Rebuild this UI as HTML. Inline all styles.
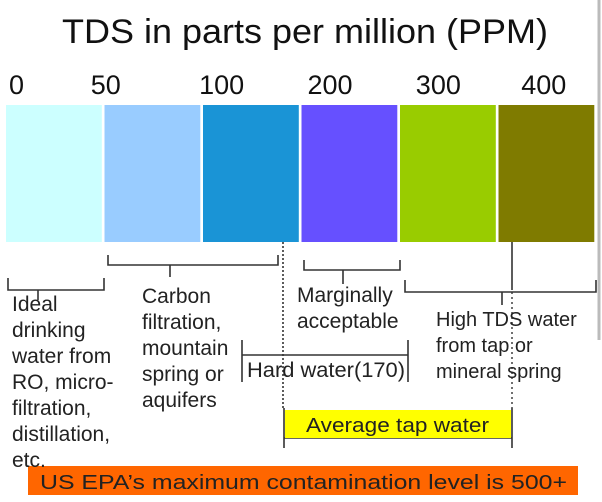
<!DOCTYPE html>
<html><head><meta charset="utf-8"><style>
body{margin:0;background:#fff;}
svg{display:block;font-family:"Liberation Sans",sans-serif;}
</style></head><body>
<svg id="c" width="602" height="502" viewBox="0 0 602 502" xmlns="http://www.w3.org/2000/svg">
<rect x="0" y="0" width="602" height="502" fill="#fff"/>
<line x1="599" y1="0" x2="599" y2="340" stroke="#bbb" stroke-width="3"/>
<text x="62" y="43" font-size="34" textLength="486" lengthAdjust="spacingAndGlyphs" fill="#111">TDS in parts per million (PPM)</text>
<g id="segs"></g>
<g id="ticks"></g>
<g stroke="#333" stroke-width="1.6" fill="none">
<path d="M8 278V290H104V278M38 290V300"/>
<path d="M108 255V265H278V255M170 265V277"/>
<path d="M304 260V270H400V260M343 270V284"/>
<path d="M405 280V292H596V280M502 292V305"/>
<path d="M242 340V382M242 355H408M408 340V382"/>
<path d="M284 408V448M284 438H512M512 408V448"/>
<line x1="512" y1="242" x2="512" y2="290"/>
</g>
<line x1="283" y1="242" x2="283" y2="408" stroke="#333" stroke-width="1.6" stroke-dasharray="2 2"/>
<line x1="512" y1="292" x2="512" y2="408" stroke="#333" stroke-width="1.4" stroke-dasharray="2 3"/>
<rect x="285" y="410" width="226" height="28" fill="#ffff00"/>
<text x="306" y="432" font-size="20" textLength="183" lengthAdjust="spacingAndGlyphs" fill="#222">Average tap water</text>
<rect x="28" y="466" width="550" height="29" fill="#ff6600"/>
<text x="40" y="489" font-size="20" textLength="527" lengthAdjust="spacingAndGlyphs" fill="#222">US EPA’s maximum contamination level is 500+</text>
<g font-size="21" fill="#222">
<text x="12" y="311"><tspan x="12">Ideal</tspan><tspan x="12" dy="26">drinking</tspan><tspan x="12" dy="26">water from</tspan><tspan x="12" dy="26">RO, micro-</tspan><tspan x="12" dy="26">filtration,</tspan><tspan x="12" dy="26">distillation,</tspan><tspan x="12" dy="26">etc.</tspan></text>
<text x="142" y="303"><tspan x="142">Carbon</tspan><tspan x="142" dy="26">filtration,</tspan><tspan x="142" dy="26">mountain</tspan><tspan x="142" dy="26">spring or</tspan><tspan x="142" dy="26">aquifers</tspan></text>
<text x="297" y="302"><tspan x="297">Marginally</tspan><tspan x="297" dy="26">acceptable</tspan></text>
<text x="436" y="326" font-size="20"><tspan x="436">High TDS water</tspan><tspan x="436" dy="26">from tap or</tspan><tspan x="436" dy="26">mineral spring</tspan></text>
<text x="247" y="377" textLength="158" lengthAdjust="spacingAndGlyphs">Hard water(170)</text>
</g>
</svg>
<script>
const tickLabels=["0","50","100","200","300","400"];
const segColors=["#ccffff","#99ccff","#1a94d6","#6650ff","#99cc00","#7f7b00"];
const segIndex=[0,1,2,3,4,5];
const NS="http://www.w3.org/2000/svg";
const x0=6,segW=98.5,segGap=2.7;
function xOf(i){return x0+i*segW;}
const segs=document.getElementById('segs');
segIndex.forEach(i=>{
  const r=document.createElementNS(NS,'rect');
  r.setAttribute('x',xOf(i));r.setAttribute('y',105);
  r.setAttribute('width',segW-segGap);r.setAttribute('height',137);
  r.setAttribute('fill',segColors[i]);
  
  
  segs.appendChild(r);
});
const tickX=[0,0.83,1.93,3.03,4.13,5.2];
const ticks=document.getElementById('ticks');
tickLabels.forEach((t,i)=>{
  const tx=document.createElementNS(NS,'text');
  tx.setAttribute('x',9+tickX[i]*segW);tx.setAttribute('y',94);
  tx.setAttribute('font-size','27');tx.setAttribute('fill','#111');
  tx.textContent=t;
  
  
  ticks.appendChild(tx);
});
</script>
</body></html>
